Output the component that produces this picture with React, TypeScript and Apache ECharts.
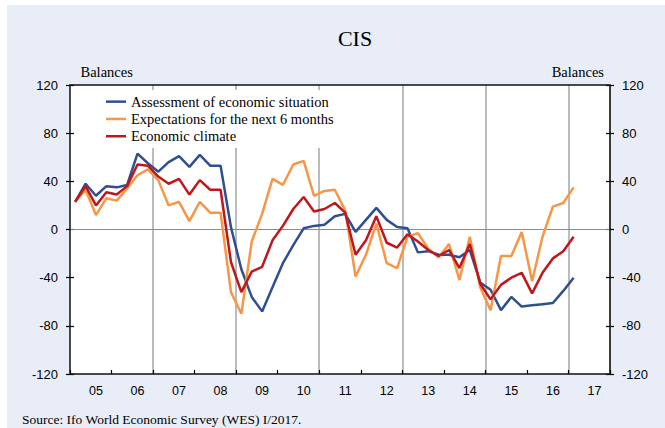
import React, { useEffect, useRef } from "react";
import * as echarts from "echarts";

const years = ["2005", "2006", "2007", "2008", "2009", "2010", "2011", "2012", "2013", "2014", "2015", "2016", "2017"];
const quarters = years.flatMap((y) => ["Q1", "Q2", "Q3", "Q4"].map((q) => y + q));

// 2005Q1 .. 2017Q1
const assessment = [
  23, 38, 28, 36, 35, 37, 63, 55, 48, 56, 61, 52, 62, 53, 53, 2,
  -33, -56, -68, -48, -28, -13, 1, 3, 4, 11, 13, -2, 8, 18, 8, 2,
  1, -19, -18, -21, -21, -23, -17, -44, -50, -67, -56, -64, -63, -62, -61, -51,
  -40,
];
const expectations = [
  23, 33, 12, 26, 24, 34, 45, 50, 41, 20, 23, 7, 23, 14, 14, -52,
  -70, -10, 13, 42, 37, 54, 57, 28, 32, 33, 16, -39, -21, 5, -28, -32,
  -6, -3, -16, -23, -12, -42, -6, -48, -67, -22, -22, -2, -43, -6, 19, 22,
  35,
];
const climate = [
  23, 36, 20, 31, 29, 36, 54, 53, 44, 38, 42, 29, 41, 33, 33, -27,
  -52, -35, -31, -9, 3, 17, 27, 15, 17, 22, 14, -21, -9, 11, -11, -15,
  -4, -10, -17, -22, -17, -32, -12, -45, -58, -46, -40, -36, -53, -36, -24, -18,
  -6,
];

const seriesNames = [
  "Assessment of economic situation",
  "Expectations for the next 6 months",
  "Economic climate",
];
const seriesColors = ["#2e5090", "#f79646", "#c0171d"];

const Y_MIN = -120;
const Y_MAX = 120;
const Y_STEP = 40;

const GRID = { left: 70, top: 85, width: 540, height: 289 };
const SERIF = "'Liberation Serif', 'Times New Roman', serif";
const SANS = "'Liberation Sans', Arial, sans-serif";

export default function App() {
  const ref = useRef<HTMLDivElement>(null);

  useEffect(() => {
    const chart = echarts.init(ref.current!, undefined, { renderer: "svg" });
    const yBase = {
      type: "value",
      min: Y_MIN,
      max: Y_MAX,
      interval: Y_STEP,
      splitLine: { show: false },
      axisLine: { show: false },
    };
    chart.setOption({
      animation: false,
      grid: {
        left: GRID.left,
        top: GRID.top,
        width: GRID.width,
        height: GRID.height,
        show: true,
        backgroundColor: "#ffffff",
        borderWidth: 0,
      },
      legend: {
        orient: "vertical",
        left: 96,
        top: 90,
        padding: [3, 10, 3, 10],
        backgroundColor: "#ffffff",
        itemGap: 0,
        itemWidth: 20,
        itemHeight: 2.5,
        icon: "rect",
        selectedMode: false,
        textStyle: { fontFamily: SERIF, fontSize: 14.5, color: "#000", lineHeight: 17.3 },
        data: seriesNames,
      },
      xAxis: {
        type: "category",
        data: quarters,
        boundaryGap: true,
        position: "bottom",
        axisLine: { show: false, onZero: false },
        axisTick: {
          show: true,
          inside: true,
          length: 4,
          interval: (i: number) => i % 4 === 0,
          lineStyle: { color: "#000", width: 1.2 },
        },
        axisLabel: {
          interval: (i: number) => i % 4 === 2,
          formatter: (v: string) => v.slice(2, 4),
          margin: 10,
          fontFamily: SANS,
          fontSize: 12.5,
          color: "#000",
        },
        splitLine: {
          show: true,
          interval: (i: number) => i > 0 && i % 8 === 0,
          lineStyle: { color: "#a6a6a6", width: 1.5 },
        },
      },
      yAxis: [
        {
          ...yBase,
          position: "left",
          axisTick: { show: true, inside: false, length: 4, lineStyle: { color: "#000", width: 1.2 } },
          axisLabel: { margin: 12, fontFamily: SANS, fontSize: 13, color: "#000" },
        },
        {
          ...yBase,
          position: "right",
          axisTick: { show: true, inside: false, length: 4, lineStyle: { color: "#000", width: 1.2 } },
          axisLabel: { margin: 12, fontFamily: SANS, fontSize: 13, color: "#000" },
        },
        {
          ...yBase,
          position: "left",
          axisTick: { show: true, inside: true, length: 4, lineStyle: { color: "#000", width: 1.2 } },
          axisLabel: { show: false },
        },
        {
          ...yBase,
          position: "right",
          axisTick: { show: true, inside: true, length: 4, lineStyle: { color: "#000", width: 1.2 } },
          axisLabel: { show: false },
        },
      ],
      graphic: [
        {
          type: "text",
          x: 355,
          y: 38,
          style: {
            text: "CIS",
            font: `22px ${SERIF}`,
            fill: "#000",
            textAlign: "center",
            textVerticalAlign: "middle",
            align: "center",
            verticalAlign: "middle",
          },
        },
        {
          type: "text",
          x: 80.5,
          y: 72,
          style: {
            text: "Balances",
            font: `14.5px ${SERIF}`,
            fill: "#000",
            textAlign: "left",
            textVerticalAlign: "middle",
            align: "left",
            verticalAlign: "middle",
          },
        },
        {
          type: "text",
          x: 604,
          y: 72,
          style: {
            text: "Balances",
            font: `14.5px ${SERIF}`,
            fill: "#000",
            textAlign: "right",
            textVerticalAlign: "middle",
            align: "right",
            verticalAlign: "middle",
          },
        },
        {
          type: "text",
          x: 22,
          y: 419.5,
          style: {
            text: "Source: Ifo World Economic Survey (WES) I/2017.",
            font: `13.5px ${SERIF}`,
            fill: "#000",
            textAlign: "left",
            textVerticalAlign: "middle",
            align: "left",
            verticalAlign: "middle",
          },
        },
        {
          type: "rect",
          z: 100,
          silent: true,
          shape: { x: GRID.left, y: GRID.top, width: GRID.width, height: GRID.height },
          style: { fill: "none", stroke: "#111", lineWidth: 1.5 },
        },
      ],
      series: [
        {
          type: "line",
          data: [],
          z: 1,
          silent: true,
          markLine: {
            silent: true,
            z: 1,
            symbol: "none",
            label: { show: false },
            lineStyle: { color: "#8c8c8c", width: 1.2, type: "solid" },
            data: [{ yAxis: 0 }],
          },
        },
        ...[assessment, expectations, climate].map((d, k) => ({
          name: seriesNames[k],
          type: "line",
          data: d,
          symbol: "none",
          z: 3 + k,
          lineStyle: { color: seriesColors[k], width: 2.5 },
          itemStyle: { color: seriesColors[k] },
        })),
      ],
    });
    return () => chart.dispose();
  }, []);

  return (
    <div style={{ position: "fixed", left: 0, top: 0, width: 665, height: 428, background: "#ffffff" }}>
      <div style={{ position: "absolute", left: 7, top: 5, width: 658, height: 423, background: "#e8edf8" }} />
      <div ref={ref} style={{ position: "absolute", left: 0, top: 0, width: 665, height: 428 }} />
    </div>
  );
}
